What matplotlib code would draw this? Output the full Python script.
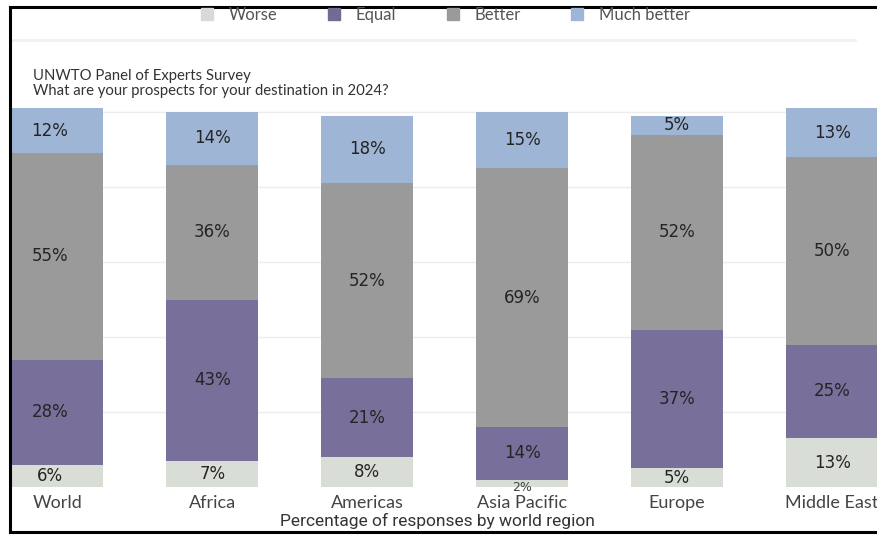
import numpy as np
import matplotlib.pyplot as plt
from matplotlib.lines import Line2D

regions = ['World', 'Africa', 'Americas', 'Asia Pacific', 'Europe', 'Middle East']
worse = [6, 7, 8, 2, 5, 13]
equal = [28, 43, 21, 14, 37, 25]
better = [55, 36, 52, 69, 52, 50]
much_better = [12, 14, 18, 15, 5, 13]

series = ['Worse', 'Equal', 'Better', 'Much better']
colors = ['#d8ddd6', '#78709b', '#9b9a9a', '#9fb5d5']
legend_colors = ['#d9d9d9', '#726b93', '#9a9a9a', '#9fb5d8']

plt.rcParams['font.family'] = 'Lato'

W, H = 877, 535
fig = plt.figure(figsize=(W / 100, H / 100), dpi=100)

# axes placed in pixels: baseline at y=487, 100% at y=112
ax = fig.add_axes([11 / W, 48 / H, (W - 11) / W, 382.5 / H])
ax.set_xlim(-0.30, 5.29)
ax.set_ylim(0, 102)

x = np.arange(len(regions))
bottom = np.zeros(len(regions))
for vals, col in zip([worse, equal, better, much_better], colors):
    vals = np.array(vals, dtype=float)
    ax.bar(x, vals, bottom=bottom, width=0.594, color=col, zorder=2)
    for xi, b, v in zip(x, bottom, vals):
        if v >= 4:
            ax.text(xi - 0.05 * (xi == 0), b + v / 2, f'{int(v)}%', ha='center', va='center',
                    fontsize=12, color='#242424', family='DejaVu Sans', zorder=3)
        else:
            ax.text(xi, b + v / 2 - 1.2, f'{int(v)}%', ha='center', va='center',
                    fontsize=9, color='#444444', family='DejaVu Sans', zorder=3)
    bottom += vals

for gy in [20, 40, 60, 80, 100]:
    ax.axhline(gy, color='#ececec', lw=1, zorder=0)

for s in ax.spines.values():
    s.set_visible(False)
ax.set_yticks([])
ax.set_xticks(x)
ax.set_xticklabels(regions, fontsize=13, color='#444444')
ax.tick_params(axis='x', length=0, pad=6)
ax.set_xlabel('Percentage of responses by world region', fontsize=12.5,
              color='#333333', family='Roboto')
ax.xaxis.label.set_va('center')
ax.xaxis.set_label_coords(0.492, -0.089)

# header texts
fig.text(33 / W, 1 - 80 / H, 'UNWTO Panel of Experts Survey', fontsize=10.7, color='#333333')
fig.text(33 / W, 1 - 95 / H, 'What are your prospects for your destination in 2024?',
         fontsize=10.7, color='#333333')

handles = [Line2D([0], [0], marker='s', ls='none', markersize=8, color=c) for c in legend_colors]
fig.legend(handles, series, loc='center', bbox_to_anchor=(440 / W, 1 - 15 / H), ncol=4,
           frameon=False, fontsize=12, labelcolor='#555555', handletextpad=0.3,
           columnspacing=2.4)

# faint separator under the legend
fig.add_artist(Line2D([10 / W, 855 / W], [1 - 40 / H, 1 - 40 / H], color='#f0f0f0', lw=2))

# frame on the top, left and bottom
fig.add_artist(Line2D([10 / W, 1], [1 - 6.5 / H, 1 - 6.5 / H], color='black', lw=2.2))
fig.add_artist(Line2D([10 / W, 10 / W], [1 - 6.5 / H, 1 - 532 / H], color='black', lw=2.2))
fig.add_artist(Line2D([10 / W, 1], [1 - 532 / H, 1 - 532 / H], color='black', lw=2.2))

fig.savefig('out.png', dpi=100)
